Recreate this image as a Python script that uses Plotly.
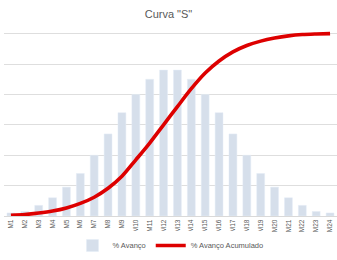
import plotly.graph_objects as go

months = [f"M{i}" for i in range(1, 25)]
avanco = [0.2, 0.3, 0.7, 1.2, 1.9, 2.8, 4.0, 5.4, 6.8, 8.0, 9.0, 9.6,
          9.6, 9.0, 8.0, 6.8, 5.4, 4.0, 2.8, 1.9, 1.2, 0.7, 0.3, 0.2]
acumulado = [0.4, 0.8, 1.6, 2.7, 4.4, 6.9, 10.3, 15.2, 21.8, 30.8, 40.0, 50.0,
             60.0, 69.8, 78.4, 85.0, 90.0, 93.5, 95.9, 97.6, 98.8, 99.5, 99.8, 100.0]

grey = "#595959"
fig = go.Figure()
fig.add_trace(go.Bar(x=months, y=avanco, name="% Avanço", marker_color="#d6dfeb",
                     yaxis="y"))
fig.add_trace(go.Scatter(x=months, y=acumulado, name="% Avanço Acumulado", mode="lines",
                         yaxis="y2",
                         line=dict(color="#dd0000", width=3.6, shape="spline", smoothing=0.8)))

fig.update_layout(
    width=337, height=260,
    margin=dict(l=4, r=0, t=29.5, b=38.3),
    paper_bgcolor="white", plot_bgcolor="white",
    font=dict(family="Liberation Sans", color=grey, size=7),
    title=dict(text='Curva "S"', x=0.5, xanchor="center", y=1 - 14 / 260, yanchor="middle",
               font=dict(size=11, color=grey, family="Liberation Sans")),
    bargap=0.43,
    showlegend=True,
    legend=dict(orientation="h", x=0.5, xanchor="center", y=-0.16, yanchor="middle",
                font=dict(size=7.5, color=grey), itemwidth=30, traceorder="normal"),
    xaxis=dict(type="category", range=[-0.5, 23.5], tickangle=-90, showgrid=False,
               showline=True, linecolor="#d9d9d9", linewidth=1, ticks="", automargin=False,
               tickfont=dict(size=6.5, color=grey)),
    yaxis=dict(range=[0, 12.24], dtick=2, tick0=0, showticklabels=False, automargin=False,
               showgrid=True, gridcolor="#dedede", gridwidth=1, zeroline=False),
    yaxis2=dict(range=[0, 102], overlaying="y", side="right", showgrid=False, automargin=False,
                showticklabels=False, zeroline=False),
)

fig.write_html("out.html", config={"displayModeBar": False},
               post_script="document.body.style.margin='0';document.body.style.padding='0';")
